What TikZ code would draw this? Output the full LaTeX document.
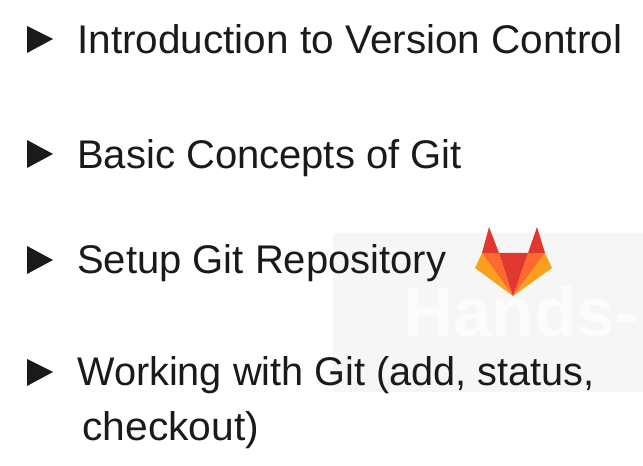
\documentclass[tikz,border=0pt]{standalone}
\usepackage{fontspec}
\setmainfont{Liberation Sans}
\definecolor{wm}{RGB}{246,246,247}
\definecolor{wmt}{RGB}{252,252,252}
\definecolor{foxred}{RGB}{224,56,46}
\definecolor{foxorange}{RGB}{252,106,47}
\definecolor{foxyellow}{RGB}{250,160,30}
\definecolor{ink}{RGB}{26,26,26}
\tikzset{x=0.75pt,y=-0.75pt,
 bullet/.style={fill=ink,draw=none},
 lbl/.style={anchor=base west,inner sep=0pt,font=\fontsize{30}{34}\selectfont,text=ink}}
\begin{document}
\begin{tikzpicture}
\useasboundingbox (0,0) rectangle (643,466);
\fill[white] (0,0) rectangle (643,466);
\fill[wm,rounded corners=3pt] (333,233) rectangle (650,392);
\node[anchor=base west,inner sep=0pt,font=\bfseries\fontsize{52}{52}\selectfont,text=wmt] (wm) at (403,337) {Hands-};
\fill[bullet] (27,26) -- (53,39) -- (27,53) -- cycle;
\fill[bullet] (27,140) -- (53,154) -- (27,168) -- cycle;
\fill[bullet] (27,246) -- (53,260) -- (27,274) -- cycle;
\fill[bullet] (27,359) -- (53,372) -- (27,386) -- cycle;
\node[lbl,xscale=1.013] (a) at (77,53.5) {Introduction to Version Control};
\node[lbl] (b) at (77,169) {Basic Concepts of Git};
\node[lbl] (c) at (77,274) {Setup Git Repository};
\node[lbl,xscale=0.992] (d) at (77,386) {Working with Git (add, status,};
\node[lbl,xscale=1.02] (e) at (82,441) {checkout)};
\fill[foxyellow] (482,253) -- (475,268) -- (513,296) -- cycle;
\fill[foxyellow] (545,253) -- (552,268) -- (513,296) -- cycle;
\fill[foxorange] (482,253) -- (499,253) -- (513,296) -- cycle;
\fill[foxorange] (545,253) -- (528,253) -- (513,296) -- cycle;
\fill[foxred] (489,227) -- (482,253) -- (499,253) -- cycle;
\fill[foxred] (537,227) -- (545,253) -- (528,253) -- cycle;
\fill[foxred] (499,253) -- (528,253) -- (513,296) -- cycle;
\end{tikzpicture}
\end{document}
